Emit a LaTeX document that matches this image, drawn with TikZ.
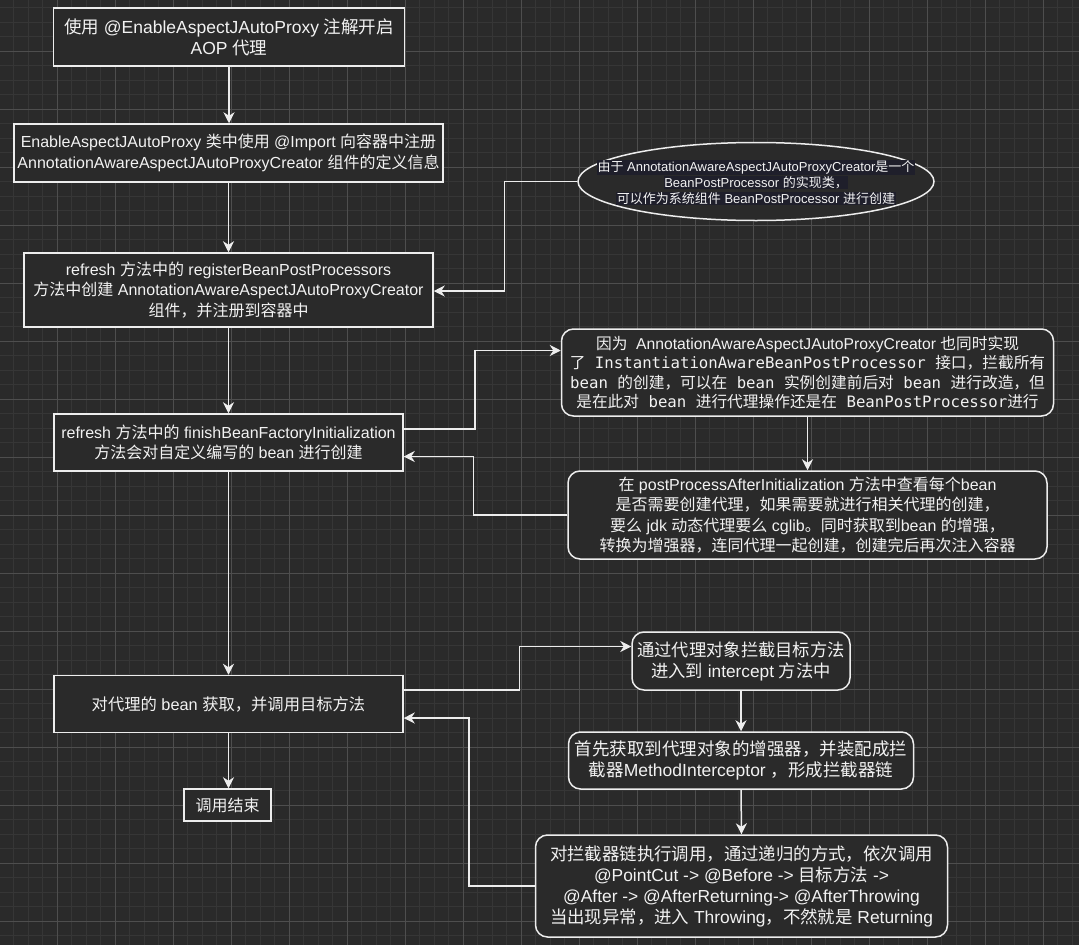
\documentclass[tikz,border=0pt]{standalone}
\usepackage{fontspec}
\setmainfont{Liberation Sans}
\newfontfamily\cjkf{Noto Sans CJK SC}
\newfontfamily\monof{DejaVu Sans Mono}
\usetikzlibrary{arrows.meta,shapes.geometric}

% Automatic switching between Latin and CJK fonts via XeTeX character classes
\newcount\cjkcnt
\newcommand\cjkrange[2]{\cjkcnt=#1\relax
  \loop\XeTeXcharclass\cjkcnt=200\relax\advance\cjkcnt by 1\relax
  \ifnum\cjkcnt<#2\relax\repeat}
\cjkrange{"3000}{"3040}
\cjkrange{"4E00}{"A000}
\cjkrange{"FF00}{"FFF0}
\def\curlat{\normalfont}
\XeTeXinterchartoks 0 200 = {\cjkf}
\XeTeXinterchartoks 4095 200 = {\cjkf}
\XeTeXinterchartoks 200 0 = {\curlat}
\XeTeXinterchartoks 200 4095 = {\curlat}
% Latin text of a line set in monospace
\newcommand\ml{\def\curlat{\monof}\monof}

\definecolor{bgc}{HTML}{2A2A2A}
\definecolor{gridminor}{HTML}{363636}
\definecolor{gridmajor}{HTML}{4E4E4E}
\definecolor{linec}{HTML}{EDEDED}
\definecolor{txtc}{HTML}{F2F2F2}
\definecolor{hlc}{HTML}{1F1F2B}
% highlighted line of text
\newcommand\hl[1]{{\setlength{\fboxsep}{0.6pt}\colorbox{hlc}{#1}}}

\begin{document}
\XeTeXinterchartokenstate=1
\begin{tikzpicture}[x=1pt,y=-1pt,
  box/.style={draw=linec, line width=1.5pt, fill=bgc, text=txtc, align=center,
    inner sep=0pt, font=\fontsize{16}{20.5}\selectfont},
  rbox/.style={box, rounded corners=12pt},
  fs/.style 2 args={font=\fontsize{#1}{#2}\selectfont},
  arr/.style={draw=linec, line width=1.5pt, -{Stealth[length=11pt,width=11pt,inset=3.5pt]}},
  minorline/.style={draw=gridminor, line width=1pt},
  majorline/.style={draw=gridmajor, line width=1pt}]

% canvas and grid
\fill[bgc] (0,0) rectangle (1079,945);
\useasboundingbox (0,0) rectangle (1079,945);
\foreach \k in {0,...,73} {
  \pgfmathsetmacro\xx{13.8+14.5*\k}
  \draw[minorline] (\xx,0) -- (\xx,945);
}
\foreach \k in {0,...,64} {
  \pgfmathsetmacro\yy{7.8+14.5*\k}
  \draw[minorline] (0,\yy) -- (1079,\yy);
}
\foreach \k in {0,...,18} {
  \pgfmathsetmacro\xx{57.3+58*\k}
  \draw[majorline] (\xx,0) -- (\xx,945);
}
\foreach \k in {0,...,16} {
  \pgfmathsetmacro\yy{51.3+58*\k}
  \draw[majorline] (0,\yy) -- (1079,\yy);
}

% left column
\node[box, fs={17.5}{21}, minimum width=351pt, minimum height=58pt] (b1) at (229,37)
  {使用 @EnableAspectJAutoProxy 注解开启\\AOP 代理};
\node[box, minimum width=429pt, minimum height=58pt] (b2) at (228.5,153)
  {EnableAspectJAutoProxy 类中使用 @Import 向容器中注册\\AnnotationAwareAspectJAutoProxyCreator 组件的定义信息};
\node[box, minimum width=409pt, minimum height=74pt] (b3) at (228.5,290)
  {refresh 方法中的 registerBeanPostProcessors\\方法中创建 AnnotationAwareAspectJAutoProxyCreator\\组件，并注册到容器中};
\node[box, minimum width=349pt, minimum height=57pt] (b4) at (228.5,442.5)
  {refresh 方法中的 finishBeanFactoryInitialization\\方法会对自定义编写的 bean 进行创建};
\node[box, fs={16.3}{20}, minimum width=349pt, minimum height=57pt] (b7) at (228.5,704)
  {对代理的 bean 获取，并调用目标方法};
\node[box, minimum width=87pt, minimum height=32pt] (b11) at (227.5,805)
  {调用结束};

% note ellipse
\node[draw=linec, line width=1.5pt, fill=bgc, ellipse, minimum width=356pt,
  minimum height=78pt, inner sep=0pt] (e) at (756,181.5) {};
\node[text=txtc, align=center, inner sep=0pt, fs={13}{15.8}] (et) at (756,182.5)
  {\hl{由于 AnnotationAwareAspectJAutoProxyCreator是一个}\\
   \hl{BeanPostProcessor 的实现类，}\\
   \hl{可以作为系统组件 BeanPostProcessor 进行创建}};

% right column
\node[rbox, fs={15.7}{19.5}, minimum width=492pt, minimum height=87pt] (b5) at (807.5,372.5)
  {因为 \ AnnotationAwareAspectJAutoProxyCreator 也同时实现\\
   \ml 了 InstantiationAwareBeanPostProcessor 接口，拦截所有\\
   \ml bean 的创建，可以在 bean 实例创建前后对 bean 进行改造，但\\
   \ml 是在此对 bean 进行代理操作还是在 BeanPostProcessor进行};
\node[rbox, fs={16}{20.5}, minimum width=479pt, minimum height=88pt] (b6) at (807.5,515)
  {在 postProcessAfterInitialization 方法中查看每个bean\\
   是否需要创建代理，如果需要就进行相关代理的创建，\\
   要么 jdk 动态代理要么 cglib。同时获取到bean 的增强，\\
   转换为增强器，连同代理一起创建，创建完后再次注入容器};
\node[rbox, fs={17.3}{21}, minimum width=218pt, minimum height=58pt] (b8) at (741,661)
  {通过代理对象拦截目标方法\\进入到 intercept 方法中};
\node[rbox, fs={17.5}{21}, minimum width=345pt, minimum height=57pt] (b9) at (741,760.5)
  {首先获取到代理对象的增强器，并装配成拦\\截器MethodInterceptor ，形成拦截器链};
\node[rbox, fs={17.4}{21}, minimum width=412pt, minimum height=102pt] (b10) at (741.5,886)
  {对拦截器链执行调用，通过递归的方式，依次调用\\
   @PointCut -> @Before -> 目标方法 ->\\
   @After -> @AfterReturning-> @AfterThrowing\\
   当出现异常，进入 Throwing，不然就是 Returning};

% connectors
\draw[arr] (b1.south) -- (b1.south |- b2.north);
\draw[arr] (b2.south) -- (b2.south |- b3.north);
\draw[arr] (b3.south) -- (b3.south |- b4.north);
\draw[arr] (b4.south) -- (b4.south |- b7.north);
\draw[arr] (b7.south) -- (b7.south |- b11.north);
\draw[arr] (e.west) -- ++(-73,0) |- ([yshift=-1pt]b3.east);
\draw[arr] ([yshift=13.5pt]b4.east) -- ++(71,0) |- ([yshift=22pt]b5.west);
\draw[arr] (b5.south) -- (b6.north);
\draw[arr] (b6.west) -- ++(-94,0) |- ([yshift=-14pt]b4.east);
\draw[arr] ([yshift=14pt]b7.east) -- ++(115.5,0) |- ([yshift=14.5pt]b8.west);
\draw[arr] (b8.south) -- (b9.north);
\draw[arr] (b9.south) -- (b10.north);
\draw[arr] (b10.west) -- ++(-66,0) |- ([yshift=-14pt]b7.east);
\end{tikzpicture}
\end{document}
